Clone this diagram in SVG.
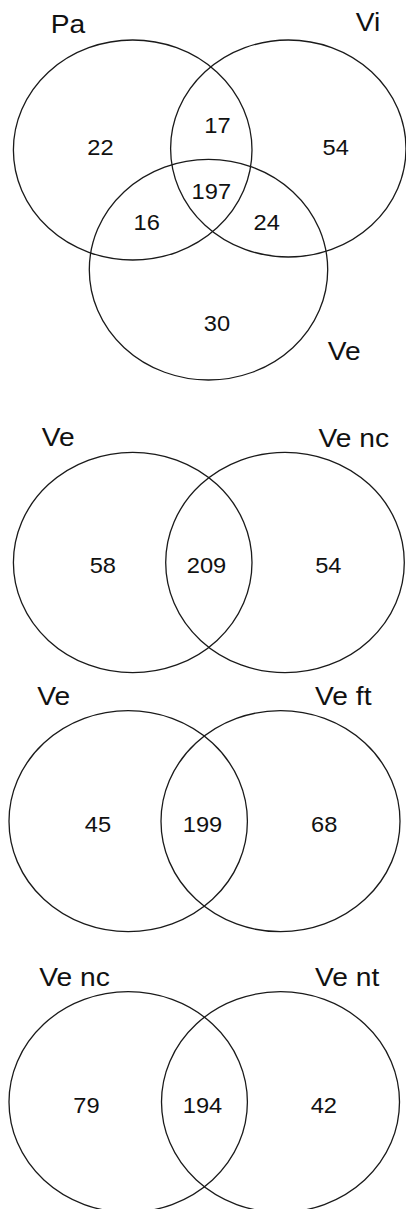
<svg xmlns="http://www.w3.org/2000/svg" width="406" height="1209" viewBox="0 0 406 1209">
<style>
.c{fill:none;stroke:#1a1a1a;stroke-width:1.3}
.l{font-family:"Liberation Sans",Arial,sans-serif;font-size:26px;fill:#111;text-anchor:middle}
.n{font-family:"Liberation Sans",Arial,sans-serif;font-size:21.5px;fill:#111;text-anchor:middle}
</style>
<rect width="406" height="1209" fill="#fff"/>
<g id="venn1">
<g id="pa"><ellipse class="c" cx="132.7" cy="150" rx="119.3" ry="110"/><text class="l" transform="translate(68,32.7) scale(1.085,1)">Pa</text></g>
<g id="vi"><ellipse class="c" cx="288.3" cy="148.5" rx="117.7" ry="108.5"/><text class="l" transform="translate(368,30.7) scale(1.085,1)">Vi</text></g>
<g id="ve1"><ellipse class="c" cx="208.5" cy="269.7" rx="119.2" ry="110.3"/><text class="l" transform="translate(344.2,360) scale(1.085,1)">Ve</text></g>
<g id="counts1">
<text class="n" transform="translate(100.5,155) scale(1.1,1)">22</text>
<text class="n" transform="translate(217.5,132.7) scale(1.1,1)">17</text>
<text class="n" transform="translate(335.7,155) scale(1.1,1)">54</text>
<text class="n" transform="translate(211.3,199) scale(1.1,1)">197</text>
<text class="n" transform="translate(146.7,230) scale(1.1,1)">16</text>
<text class="n" transform="translate(266.7,230) scale(1.1,1)">24</text>
<text class="n" transform="translate(217,331) scale(1.1,1)">30</text>
</g>
</g>
<g id="venn2">
<g id="ve2"><ellipse class="c" cx="132.7" cy="562.5" rx="119.3" ry="110.2"/><text class="l" transform="translate(58.3,446.3) scale(1.085,1)">Ve</text></g>
<g id="venc2"><ellipse class="c" cx="285" cy="562.5" rx="119.3" ry="110.2"/><text class="l" transform="translate(353.8,446.5) scale(1.085,1)">Ve nc</text></g>
<g id="counts2">
<text class="n" transform="translate(102.8,573.3) scale(1.1,1)">58</text>
<text class="n" transform="translate(206.5,573.3) scale(1.1,1)">209</text>
<text class="n" transform="translate(328.3,573.3) scale(1.1,1)">54</text>
</g>
</g>
<g id="venn3">
<g id="ve3"><ellipse class="c" cx="128.2" cy="821.2" rx="119.2" ry="110.5"/><text class="l" transform="translate(53.8,705) scale(1.085,1)">Ve</text></g>
<g id="veft"><ellipse class="c" cx="280.5" cy="821.2" rx="119.5" ry="110.5"/><text class="l" transform="translate(343.3,705) scale(1.085,1)">Ve ft</text></g>
<g id="counts3">
<text class="n" transform="translate(98,831.7) scale(1.1,1)">45</text>
<text class="n" transform="translate(202.5,831.7) scale(1.1,1)">199</text>
<text class="n" transform="translate(324.2,831.7) scale(1.1,1)">68</text>
</g>
</g>
<g id="venn4">
<g id="venc4"><ellipse class="c" cx="128.2" cy="1102" rx="119.2" ry="110.3"/><text class="l" transform="translate(74.5,986) scale(1.085,1)">Ve nc</text></g>
<g id="vent"><ellipse class="c" cx="280.5" cy="1102" rx="119" ry="110.3"/><text class="l" transform="translate(347.2,986) scale(1.085,1)">Ve nt</text></g>
<g id="counts4">
<text class="n" transform="translate(86.5,1112.7) scale(1.1,1)">79</text>
<text class="n" transform="translate(202.5,1112.7) scale(1.1,1)">194</text>
<text class="n" transform="translate(323.8,1112.7) scale(1.1,1)">42</text>
</g>
</g>
<g id="connectors"/>
</svg>
